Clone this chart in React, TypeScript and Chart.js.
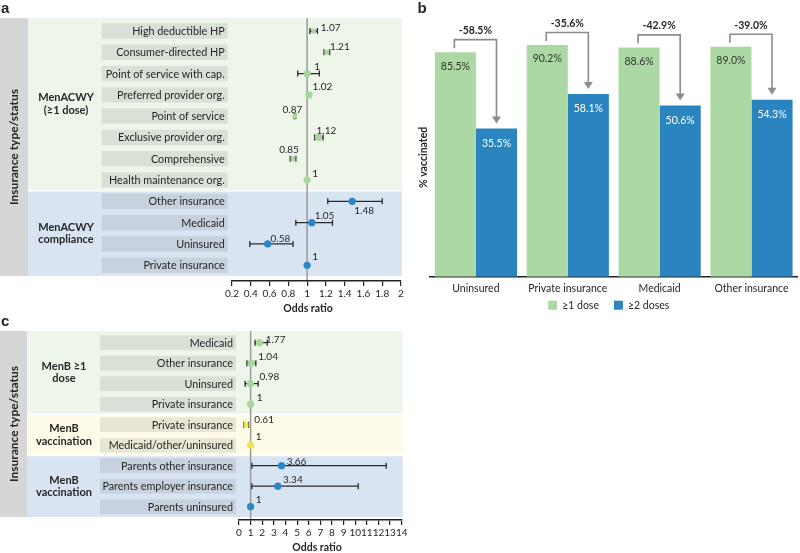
import React, { useEffect, useRef } from "react";
import { Chart, registerables } from "chart.js";

Chart.register(...registerables);

const FONT = "Lato, 'Open Sans', 'DejaVu Sans', sans-serif";
const INK = "#262626";

// ---------- Panel a: MenACWY odds ratios ----------
const A_ROWS = [
  "High deductible HP",
  "Consumer-directed HP",
  "Point of service with cap.",
  "Preferred provider org.",
  "Point of service",
  "Exclusive provider org.",
  "Comprehensive",
  "Health maintenance org.",
  "Other insurance",
  "Medicaid",
  "Uninsured",
  "Private insurance",
];
const A_OR = [1.07, 1.21, 1, 1.02, 0.87, 1.12, 0.85, 1, 1.48, 1.05, 0.58, 1];
const A_LO = [1.03, 1.18, 0.9, 1.02, 0.86, 1.08, 0.82, 1, 1.22, 0.88, 0.39, 1];
const A_HI = [1.11, 1.24, 1.13, 1.02, 0.88, 1.17, 0.88, 1, 1.8, 1.27, 0.85, 1];
const A_GROUP_NAMES = [["MenACWY", "(≥1 dose)"], ["MenACWY", "compliance"]];
const A_GROUP_SIZES = [8, 4];
const A_XTICKS = [0.2, 0.4, 0.6, 0.8, 1, 1.2, 1.4, 1.6, 1.8, 2];

// ---------- Panel b: % vaccinated ----------
const B_CATS = ["Uninsured", "Private insurance", "Medicaid", "Other insurance"];
const B_SERIES = ["≥1 dose", "≥2 doses"];
const B_DOSE1 = [85.5, 90.2, 88.6, 89.0];
const B_DOSE2 = [35.5, 58.1, 50.6, 54.3];

// ---------- Panel c: MenB odds ratios ----------
const C_ROWS = [
  "Medicaid",
  "Other insurance",
  "Uninsured",
  "Private insurance",
  "Private insurance",
  "Medicaid/other/uninsured",
  "Parents other insurance",
  "Parents employer insurance",
  "Parents uninsured",
];
const C_OR = [1.77, 1.04, 0.98, 1, 0.61, 1, 3.66, 3.34, 1];
const C_LO = [1.38, 0.68, 0.53, 1, 0.42, 1, 1.1, 1.1, 1];
const C_HI = [2.43, 1.45, 1.65, 1, 0.82, 1, 12.67, 10.26, 1];
const C_GROUP_NAMES = [["MenB ≥1", "dose"], ["MenB", "vaccination"], ["MenB", "vaccination"]];
const C_GROUP_SIZES = [4, 2, 3];
const C_XTICKS = [0, 1, 2, 3, 4, 5, 6, 7, 8, 9, 10, 11, 12, 13, 14];

// ---------- styles ----------
const THEMES: any = {
  green: { bg: "#eef6ea", mark: "#a6d69c" },
  blue: { bg: "#d9e4f3", mark: "#2a86c5" },
  yellow: { bg: "#fefce8", mark: "#f2e35a" },
};
const BAR_COLORS = ["#acd9a3", "#2a84c0"];
const B_AXIS_MIN = -61.6;
const B_AXIS_MAX = 100;

const A_STYLE = {
  letter: "a",
  letterY: 13,
  themes: ["green", "blue"],
  padding: { left: 232, right: 9, top: 18, bottom: 11 },
  yMin: -0.61,
  yMax: 11.74,
  xMin: 0.2,
  xMax: 2,
  boxLeft: 101.5,
  boxRight: 227.7,
  groupX: 66,
  bandLeft: 28,
  titleX: 308,
  labelDxy: [[17, -3], [13, -5.5], [10, -7], [13.5, -8], [-2.5, -6], [8, -6.5], [-4, -8.5], [8, -6], [12, 9.5], [12.7, -7], [12.7, -5.5], [8, -8]],
  squares: [true, true, false, false, true, false, true, false, false, false, false, false],
};
const C_STYLE = {
  letter: "c",
  letterY: 14,
  themes: ["green", "yellow", "blue"],
  padding: { left: 239, right: 8.3, top: 19, bottom: 5 },
  yMin: -0.571,
  yMax: 8.649,
  xMin: 0,
  xMax: 14,
  boxLeft: 100,
  boxRight: 236,
  groupX: 64,
  bandLeft: 27,
  titleX: 317,
  labelDxy: [[16, -2.5], [17, -6.5], [19, -6.5], [9, -6], [18, -4.7], [8, -8], [15, -3.5], [15, -6], [8, -7]],
  squares: [false, false, false, false, true, false, false, false, false],
};

function makeForest(canvas: HTMLCanvasElement, d: any, s: any) {
  const n = d.rows.length;
  const groupOf: number[] = [];
  d.groupSizes.forEach((size: number, g: number) => {
    for (let k = 0; k < size; k++) groupOf.push(g);
  });
  const markColors = groupOf.map((g) => THEMES[s.themes[g]].mark);

  const plugin = {
    id: "forest-" + s.letter,
    beforeDraw(chart: any) {
      const { ctx, chartArea: ca } = chart;
      const x = chart.scales.x;
      const y = chart.scales.y;
      const pitch = Math.abs(y.getPixelForValue(1) - y.getPixelForValue(0));
      ctx.save();
      const bands: any[] = [];
      let start = 0;
      d.groupSizes.forEach((size: number, g: number) => {
        const end = start + size - 1;
        const top = g === 0 ? ca.top : y.getPixelForValue(start - 0.5) + 0.8;
        const bottom =
          g === d.groupSizes.length - 1 ? y.getPixelForValue(end + 0.5) : y.getPixelForValue(end + 0.5) - 0.8;
        bands.push({ top, bottom, start, end });
        start += size;
      });
      const fullTop = bands[0].top;
      const fullBottom = bands[bands.length - 1].bottom;
      ctx.fillStyle = "#d6d6d6";
      ctx.fillRect(0, fullTop, s.bandLeft, fullBottom - fullTop);
      ctx.save();
      ctx.translate(s.bandLeft / 2 + 0.5, (fullTop + fullBottom) / 2);
      ctx.rotate(-Math.PI / 2);
      ctx.font = `bold 12px ${FONT}`;
      ctx.fillStyle = INK;
      ctx.textAlign = "center";
      ctx.textBaseline = "middle";
      ctx.fillText("Insurance type/status", 0, 0);
      ctx.restore();

      bands.forEach((b, g) => {
        ctx.fillStyle = THEMES[s.themes[g]].bg;
        ctx.fillRect(s.bandLeft, b.top, ca.right + 1 - s.bandLeft, b.bottom - b.top);
        ctx.font = `bold 11px ${FONT}`;
        ctx.fillStyle = INK;
        ctx.textAlign = "center";
        ctx.textBaseline = "middle";
        const cy = (b.top + b.bottom) / 2;
        const lines = d.groupNames[g];
        lines.forEach((t: string, k: number) => ctx.fillText(t, s.groupX, cy + (k - (lines.length - 1) / 2) * 12.5));
        for (let i = b.start; i <= b.end; i++) {
          const py = y.getPixelForValue(i);
          const h = pitch * 0.72;
          ctx.fillStyle = "rgba(110,110,110,0.16)";
          ctx.fillRect(s.boxLeft, py - h / 2, s.boxRight - s.boxLeft, h);
          ctx.fillStyle = INK;
          ctx.font = `10.8px ${FONT}`;
          ctx.textAlign = "right";
          ctx.fillText(d.rows[i], s.boxRight - 3, py + 0.5);
        }
      });
      const rx = x.getPixelForValue(1);
      ctx.strokeStyle = "#9b9b9b";
      ctx.lineWidth = 1.5;
      ctx.beginPath();
      ctx.moveTo(rx, ca.top);
      ctx.lineTo(rx, ca.bottom);
      ctx.stroke();
      ctx.restore();
    },
    beforeDatasetsDraw(chart: any) {
      const { ctx } = chart;
      const x = chart.scales.x;
      const y = chart.scales.y;
      ctx.save();
      ctx.strokeStyle = "#2a2a2a";
      ctx.lineWidth = 1.3;
      for (let i = 0; i < n; i++) {
        if (d.hi[i] - d.lo[i] < 1e-6) continue;
        const x0 = x.getPixelForValue(d.lo[i]);
        const x1 = x.getPixelForValue(d.hi[i]);
        const py = y.getPixelForValue(i);
        ctx.beginPath();
        ctx.moveTo(x0, py);
        ctx.lineTo(x1, py);
        ctx.moveTo(x0, py - 3);
        ctx.lineTo(x0, py + 3);
        ctx.moveTo(x1, py - 3);
        ctx.lineTo(x1, py + 3);
        ctx.stroke();
      }
      ctx.restore();
    },
    afterDraw(chart: any) {
      const { ctx, chartArea: ca } = chart;
      const x = chart.scales.x;
      const y = chart.scales.y;
      ctx.save();
      ctx.font = `10px ${FONT}`;
      ctx.fillStyle = INK;
      ctx.textAlign = "center";
      ctx.textBaseline = "middle";
      d.or.forEach((v: number, i: number) => {
        const [dx, dy] = s.labelDxy[i];
        ctx.fillText(String(v), x.getPixelForValue(v) + dx, y.getPixelForValue(i) + dy);
      });
      ctx.font = `bold 10.5px ${FONT}`;
      ctx.textAlign = "center";
      ctx.fillText("Odds ratio", s.titleX, ca.bottom + 28);
      ctx.font = `bold 15px 'Liberation Sans', Arial, sans-serif`;
      ctx.textAlign = "left";
      ctx.textBaseline = "alphabetic";
      ctx.fillText(s.letter, 1, s.letterY);
      ctx.restore();
    },
  };

  return new Chart(canvas, {
    type: "scatter",
    data: {
      datasets: [
        {
          data: d.or.map((v: number, i: number) => ({ x: v, y: i })),
          pointBackgroundColor: markColors,
          pointBorderColor: markColors,
          pointBorderWidth: 0,
          pointRadius: s.squares.map((q: boolean) => (q ? 3.4 : 3.6)),
          pointStyle: s.squares.map((q: boolean) => (q ? "rect" : "circle")),
          showLine: false,
        } as any,
      ],
    },
    options: {
      animation: false,
      responsive: false,
      devicePixelRatio: 1,
      events: [],
      layout: { padding: s.padding },
      plugins: { legend: { display: false }, tooltip: { enabled: false } },
      scales: {
        x: {
          type: "linear",
          min: s.xMin,
          max: s.xMax,
          afterBuildTicks: (sc: any) => {
            sc.ticks = d.xTicks.map((v: number) => ({ value: v }));
          },
          afterFit: (sc: any) => {
            sc.height = 28;
          },
          ticks: {
            autoSkip: false,
            maxRotation: 0,
            font: { size: 10, family: FONT },
            color: INK,
            padding: 2,
            callback: (v: any) => String(v),
          },
          grid: { drawOnChartArea: false, drawTicks: true, tickLength: 5, color: "#222", lineWidth: 1.2 },
          border: { display: true, color: "#222", width: 1.5 },
        },
        y: { type: "linear", reverse: true, min: s.yMin, max: s.yMax, display: false },
      },
    } as any,
    plugins: [plugin as any],
  });
}

function makeBars(canvas: HTMLCanvasElement) {
  const plugin = {
    id: "bars-annot",
    afterDatasetsDraw(chart: any) {
      const { ctx, chartArea: ca } = chart;
      const m1 = chart.getDatasetMeta(0).data;
      const m2 = chart.getDatasetMeta(1).data;
      ctx.save();
      ctx.textAlign = "center";
      ctx.textBaseline = "middle";
      B_CATS.forEach((_, i) => {
        const g = m1[i];
        const b = m2[i];
        ctx.font = `10.5px ${FONT}`;
        ctx.fillStyle = "#333";
        ctx.fillText(B_DOSE1[i].toFixed(1) + "%", g.x, g.y + 14);
        ctx.fillStyle = "#ffffff";
        ctx.fillText(B_DOSE2[i].toFixed(1) + "%", b.x, b.y + 15);
        const hy = g.y - 12.5;
        const lx = g.x - 1;
        const rx = b.x;
        const tip = b.y - 5;
        ctx.strokeStyle = "#8c8c8c";
        ctx.lineWidth = 1.6;
        ctx.beginPath();
        ctx.moveTo(lx, g.y - 4);
        ctx.lineTo(lx, hy);
        ctx.lineTo(rx, hy);
        ctx.lineTo(rx, tip - 6);
        ctx.stroke();
        ctx.fillStyle = "#8c8c8c";
        ctx.beginPath();
        ctx.moveTo(rx - 4.5, tip - 7);
        ctx.lineTo(rx + 4.5, tip - 7);
        ctx.lineTo(rx, tip);
        ctx.closePath();
        ctx.fill();
        const pct = ((B_DOSE2[i] - B_DOSE1[i]) / B_DOSE1[i]) * 100;
        ctx.font = `bold 10.5px ${FONT}`;
        ctx.fillStyle = INK;
        ctx.fillText(pct.toFixed(1) + "%", (lx + rx) / 2, hy - 9);
      });
      // y-axis title
      ctx.save();
      ctx.translate(ca.left - 6, (ca.top + ca.bottom) / 2 + 4);
      ctx.rotate(-Math.PI / 2);
      ctx.font = `bold 10.5px ${FONT}`;
      ctx.fillStyle = INK;
      ctx.fillText("% vaccinated", 0, 0);
      ctx.restore();
      // legend
      ctx.font = `10.5px ${FONT}`;
      ctx.textAlign = "left";
      ctx.textBaseline = "middle";
      const box = 9;
      const gap = 5;
      const spacing = 15;
      const widths = B_SERIES.map((t) => box + gap + ctx.measureText(t).width);
      const total = widths[0] + spacing + widths[1];
      let lx0 = (ca.left + ca.right) / 2 - 5 - total / 2;
      const ly = ca.bottom + 28.5;
      B_SERIES.forEach((t, k) => {
        ctx.fillStyle = BAR_COLORS[k];
        ctx.fillRect(lx0, ly - box / 2, box, box);
        ctx.fillStyle = INK;
        ctx.fillText(t, lx0 + box + gap, ly + 0.5);
        lx0 += widths[k] + spacing;
      });
      // panel letter
      ctx.font = `bold 15px 'Liberation Sans', Arial, sans-serif`;
      ctx.textBaseline = "alphabetic";
      ctx.fillStyle = INK;
      ctx.fillText("b", 7.5, 13);
      ctx.restore();
    },
  };

  return new Chart(canvas, {
    type: "bar",
    data: {
      labels: B_CATS,
      datasets: [
        { label: B_SERIES[0], data: B_DOSE1, backgroundColor: BAR_COLORS[0], base: B_AXIS_MIN } as any,
        { label: B_SERIES[1], data: B_DOSE2, backgroundColor: BAR_COLORS[1], base: B_AXIS_MIN } as any,
      ],
    },
    options: {
      animation: false,
      responsive: false,
      devicePixelRatio: 1,
      events: [],
      layout: { padding: { left: 20, right: 2.6, top: 30, bottom: 0 } },
      datasets: { bar: { categoryPercentage: 0.895, barPercentage: 1 } },
      plugins: {
        legend: { display: false },
        tooltip: { enabled: false },
      },
      scales: {
        x: {
          grid: { display: false, drawTicks: false },
          border: { display: true, color: "#222", width: 1.5 },
          ticks: { font: { size: 10.5, family: FONT }, color: INK, padding: 6, maxRotation: 0 },
          afterFit: (sc: any) => {
            sc.height = 43.3;
          },
        },
        y: { display: false, min: B_AXIS_MIN, max: B_AXIS_MAX },
      },
    } as any,
    plugins: [plugin as any],
  });
}

export default function App() {
  const aRef = useRef<HTMLCanvasElement>(null);
  const bRef = useRef<HTMLCanvasElement>(null);
  const cRef = useRef<HTMLCanvasElement>(null);

  useEffect(() => {
    const charts = [
      makeForest(
        aRef.current!,
        { rows: A_ROWS, or: A_OR, lo: A_LO, hi: A_HI, groupNames: A_GROUP_NAMES, groupSizes: A_GROUP_SIZES, xTicks: A_XTICKS },
        A_STYLE
      ),
      makeBars(bRef.current!),
      makeForest(
        cRef.current!,
        { rows: C_ROWS, or: C_OR, lo: C_LO, hi: C_HI, groupNames: C_GROUP_NAMES, groupSizes: C_GROUP_SIZES, xTicks: C_XTICKS },
        C_STYLE
      ),
    ];
    return () => charts.forEach((c) => c.destroy());
  }, []);

  return (
    <div
      style={{
        position: "absolute",
        left: 0,
        top: 0,
        width: 800,
        height: 553,
        background: "#ffffff",
        overflow: "hidden",
      }}
    >
      <canvas ref={aRef} width={410} height={320} style={{ position: "absolute", left: 0, top: 0 }} />
      <canvas ref={cRef} width={410} height={241} style={{ position: "absolute", left: 0, top: 312 }} />
      <canvas ref={bRef} width={390} height={320} style={{ position: "absolute", left: 410, top: 0 }} />
    </div>
  );
}
